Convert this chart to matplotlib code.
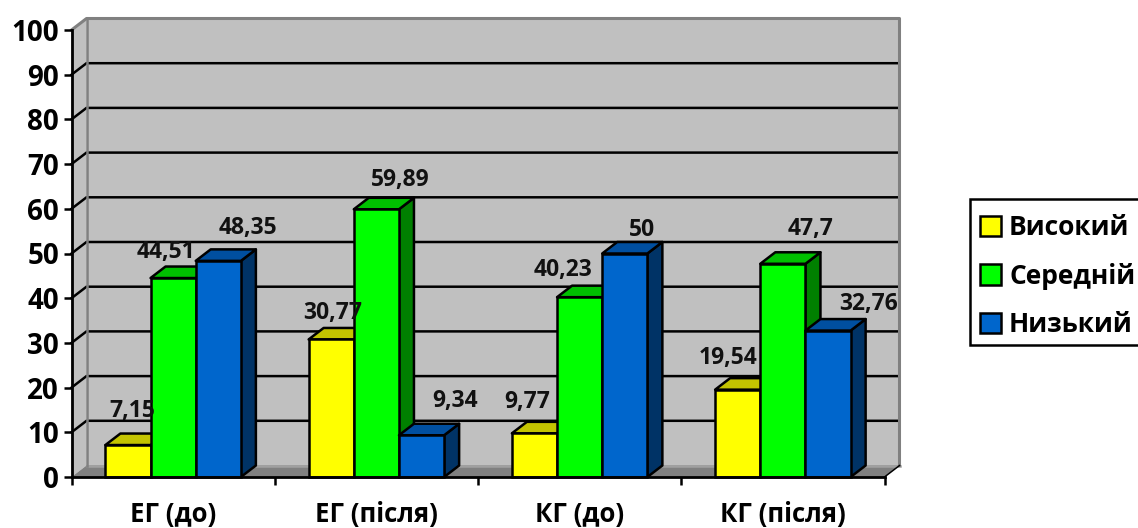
import matplotlib
matplotlib.use("Agg")
import matplotlib.pyplot as plt
from matplotlib.patches import Patch, Polygon, Rectangle

plt.rcParams["font.family"] = ["Open Sans", "DejaVu Sans"]
plt.rcParams["font.weight"] = "bold"

groups = ["ЕГ (до)", "ЕГ (після)", "КГ (до)", "КГ (після)"]
high = [7.15, 30.77, 9.77, 19.54]
medium = [44.51, 59.89, 40.23, 47.7]
low = [48.35, 9.34, 50, 32.76]
series_names = ["Високий", "Середній", "Низький"]
y_ticks = [0, 10, 20, 30, 40, 50, 60, 70, 80, 90, 100]

# front, top, side colour of each series
colours = [("#FFFF00", "#C4C400", "#808000"),
           ("#00FF00", "#00C000", "#008000"),
           ("#0066CC", "#004FA0", "#003366")]

# hand placed value labels, pixels from the top middle of the bar
label_shift = [[(4, 34), (-7, 26), (30, 33)],
               [(1, 26), (24, 29), (34, 34)],
               [(-7, 31), (-17, 27), (17, 23)],
               [(-10, 32), (28, 35), (41, 27)]]

W, H = 1138, 528
fig = plt.figure(figsize=(W / 100, H / 100), dpi=100)
ax = fig.add_axes([71.5 / W, (H - 477) / H, 813 / W, 447 / H])
ax.set_xlim(0, 4)
ax.set_ylim(0, 100)

# depth of the fake 3d box in data units
dx = 15 / (813 / 4)
dy = 11.5 / 4.47
lw = 1.8
grey = "#808080"


def poly(points, face, edge="none", width=0, z=1):
    ax.add_patch(Polygon(points, closed=True, facecolor=face, edgecolor=edge,
                         linewidth=width, zorder=z, clip_on=False,
                         joinstyle="round"))


# walls and floor
poly([(0, 0), (dx, dy), (dx, 100 + dy), (0, 100)], "#C0C0C0")
poly([(dx, dy), (4 + dx, dy), (4 + dx, 100 + dy), (dx, 100 + dy)], "#C0C0C0")
for v in y_ticks[1:-1]:
    ax.plot([0, dx, 4 + dx - 0.006], [v, v + dy, v + dy], color="black",
            lw=lw, zorder=1.2, clip_on=False, solid_joinstyle="miter")
poly([(0, 0), (dx, dy), (4 + dx, dy), (4, 0)], grey, z=1.3)
ax.plot([dx, 4 + dx], [dy, dy], color="#A0A0A0", lw=lw, zorder=1.35,
        clip_on=False)
ax.plot([0, dx, 4 + dx, 4 + dx], [100, 100 + dy, 100 + dy, dy], color=grey,
        lw=2.2, zorder=1.4, clip_on=False)
ax.plot([dx, dx], [100 + dy, dy], color=grey, lw=lw, zorder=1.4, clip_on=False)
ax.plot([4, 4 + dx], [0, dy], color="black", lw=lw * 0.6, zorder=1.4,
        clip_on=False)

# bars, left to right so each one hides the side of its neighbour
bar_w = 1 / 4.5
z = 2
for i in range(len(groups)):
    for k, vals in enumerate([high, medium, low]):
        v = vals[i]
        c = i + 0.5 + (k - 1) * bar_w
        l, r = c - bar_w / 2, c + bar_w / 2
        poly([(r, 0), (r + dx, dy), (r + dx, v + dy), (r, v)], colours[k][2],
             "black", lw, z)
        poly([(l, v), (l + dx, v + dy), (r + dx, v + dy), (r, v)], colours[k][1],
             "black", lw, z + 0.1)
        ax.bar(c, v, width=bar_w, color=colours[k][0], edgecolor="black",
               linewidth=lw, zorder=z + 0.2, clip_on=False)
        z += 0.5

for i in range(len(groups)):
    for k, vals in enumerate([high, medium, low]):
        v = vals[i]
        c = i + 0.5 + (k - 1) * bar_w
        sx, sy = label_shift[i][k]
        ax.annotate(f"{v:g}".replace(".", ","), (c, v),
                    xytext=(sx * 0.72, sy * 0.72), textcoords="offset points",
                    ha="center", va="center", fontsize=16.5, color="#111111",
                    zorder=50, annotation_clip=False)

for s in ["top", "right"]:
    ax.spines[s].set_visible(False)
for s in ["left", "bottom"]:
    ax.spines[s].set_linewidth(lw + 0.2)
    ax.spines[s].set_zorder(40)

ax.set_yticks(y_ticks)
ax.set_xticks(range(5))
ax.set_xticks([0.5, 1.5, 2.5, 3.5], minor=True)
ax.set_xticklabels([])
ax.set_xticklabels(groups, minor=True, fontsize=18.5)
ax.tick_params(axis="y", length=6, width=lw, labelsize=20, pad=3)
ax.tick_params(axis="x", which="major", length=6, width=lw)
ax.tick_params(axis="x", which="minor", length=0, pad=17)

# legend frame runs off the right side of the figure
fig.add_artist(Rectangle((970 / W, (H - 345) / H), 180 / W, 146 / H,
                         transform=fig.transFigure, facecolor="white",
                         edgecolor="black", linewidth=lw))
handles = [Patch(facecolor=c[0], edgecolor="black", linewidth=lw) for c in colours]
leg = fig.legend(handles, series_names, loc="upper left",
                 bbox_to_anchor=(980 / W, (H - 214) / H), borderaxespad=0,
                 borderpad=0, fontsize=19, frameon=False,
                 handlelength=0.8, handleheight=0.8, handletextpad=0.3,
                 labelspacing=0.82)

fig.savefig("out.png", dpi=100)
